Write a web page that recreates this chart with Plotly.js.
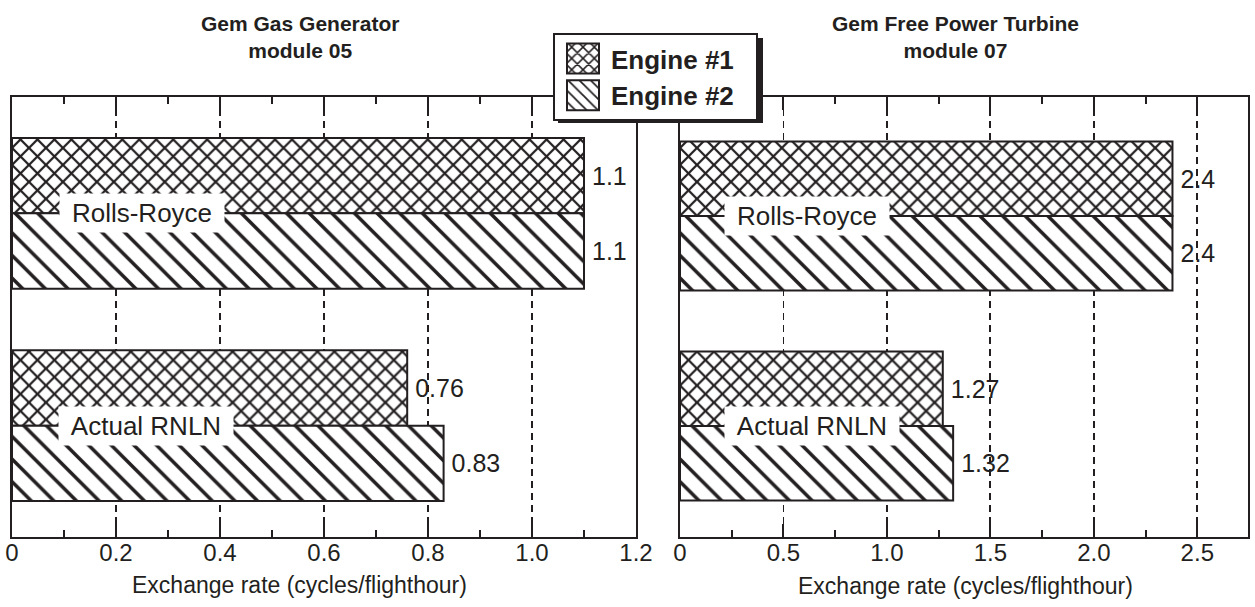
<!DOCTYPE html>
<html>
<head>
<meta charset="utf-8">
<script src="https://cdn.plot.ly/plotly-3.0.1.min.js"></script>
<style>
  html, body { margin: 0; padding: 0; background: #fff; }
  #chart { width: 1255px; height: 607px; }
</style>
</head>
<body>
<div id="chart"></div>
<script>
// ---- data ----
const categories = ['Rolls-Royce', 'Actual RNLN'];
const seriesNames = ['Engine #1', 'Engine #2'];

const ggEngine1 = [1.1, 0.76];
const ggEngine2 = [1.1, 0.83];
const ggLabels1 = ['1.1', '0.76'];
const ggLabels2 = ['1.1', '0.83'];

const fptEngine1 = [2.38, 1.27];
const fptEngine2 = [2.38, 1.32];
const fptLabels1 = ['2.4', '1.27'];
const fptLabels2 = ['2.4', '1.32'];

const ggTickVals = [0, 0.2, 0.4, 0.6, 0.8, 1.0, 1.2];
const ggTickText = ['0', '0.2', '0.4', '0.6', '0.8', '1.0', '1.2'];
const fptTickVals = [0, 0.5, 1.0, 1.5, 2.0, 2.5];
const fptTickText = ['0', '0.5', '1.0', '1.5', '2.0', '2.5'];

const panelTitles = ['<b>Gem Gas Generator<br>module 05</b>', '<b>Gem Free Power Turbine<br>module 07</b>'];
const axisTitle = 'Exchange rate (cycles/flighthour)';

// ---- styling ----
const INK = '#231f20';
const FONT = 'Liberation Sans, Arial, Helvetica, sans-serif';
const W = 1255, H = 607;
const px = v => v / W;
const py = v => 1 - v / H;

const pat1 = {shape: 'x', size: 12, solidity: 0.34, fgcolor: INK, bgcolor: 'white', fillmode: 'replace'};
const pat2 = {shape: '\\', size: 16, solidity: 0.22, fgcolor: INK, bgcolor: 'white', fillmode: 'replace'};

function barTrace(name, x, labels, pat, xa, ya, showleg) {
  return {
    type: 'bar', orientation: 'h', name: name,
    y: [0, 1], x: x, text: labels,
    texttemplate: '\u2009%{text}',
    textposition: 'outside', cliponaxis: false,
    textfont: {family: FONT, size: 25, color: INK},
    marker: {color: 'white', line: {color: INK, width: 2}, pattern: pat},
    xaxis: xa, yaxis: ya, showlegend: showleg, hoverinfo: 'skip'
  };
}

const data = [
  barTrace(seriesNames[0], ggEngine1, ggLabels1, pat1, 'x', 'y', true),
  barTrace(seriesNames[1], ggEngine2, ggLabels2, pat2, 'x', 'y', true),
  barTrace(seriesNames[0], fptEngine1, fptLabels1, pat1, 'x2', 'y2', false),
  barTrace(seriesNames[1], fptEngine2, fptLabels2, pat2, 'x2', 'y2', false)
];

function xAxis(domain, range, tv, tt, minorStep, anchor) {
  return {
    domain: domain, range: range, anchor: anchor,
    tickmode: 'array', tickvals: tv, ticktext: tt,
    ticks: 'inside', ticklen: 13, tickwidth: 2, tickcolor: INK,
    minor: {dtick: minorStep, tick0: 0, ticks: 'inside', ticklen: 7, tickwidth: 2, tickcolor: INK, showgrid: false},
    showgrid: true, gridcolor: INK, gridwidth: 1.8, griddash: '7px,5px',
    showline: true, linecolor: INK, linewidth: 2, mirror: 'ticks',
    zeroline: false,
    ticklabelstandoff: -7,
    tickfont: {family: FONT, size: 24, color: INK},
    fixedrange: true
  };
}
function yAxis(domain, range, anchor) {
  return {
    domain: domain, range: range, anchor: anchor,
    showticklabels: false, ticks: '', showgrid: false, zeroline: false,
    showline: true, linecolor: INK, linewidth: 2, mirror: true,
    fixedrange: true
  };
}

const yDom = [py(537), py(97)];

const catAnn = (text, x, y, xref, yref, w) => ({
  text: text, x: x, y: y, xref: xref, yref: yref, showarrow: false,
  xanchor: 'center', yanchor: 'middle',
  width: w, height: 32, align: 'center',
  bgcolor: 'white', borderpad: 3,
  font: {family: FONT, size: 26, color: INK}
});

const textAnn = (text, xPix, yPix, size) => ({
  text: text, x: px(xPix), y: py(yPix), xref: 'paper', yref: 'paper', showarrow: false,
  xanchor: 'center', yanchor: 'middle', align: 'center',
  font: {family: FONT, size: size, color: INK}
});

const layout = {
  width: W, height: H,
  margin: {l: 0, r: 0, t: 0, b: 0},
  paper_bgcolor: 'white', plot_bgcolor: 'white',
  font: {family: FONT, color: INK},
  barmode: 'group', bargap: 0.29, bargroupgap: 0,
  xaxis: xAxis([px(12), px(636)], [0, 1.2], ggTickVals, ggTickText, 0.1, 'y'),
  yaxis: yAxis(yDom, [1.524, -0.548], 'x'),
  xaxis2: xAxis([px(680), px(1248)], [0, 2.745], fptTickVals, fptTickText, 0.25, 'y2'),
  yaxis2: yAxis(yDom, [1.529, -0.567], 'x2'),
  showlegend: true,
  legend: {
    x: px(553), y: py(33), xanchor: 'left', yanchor: 'top',
    bgcolor: 'white', bordercolor: INK, borderwidth: 2,
    font: {family: FONT, size: 26, color: INK, weight: 'bold'},
    itemwidth: 46, traceorder: 'normal'
  },
  shapes: [
    {type: 'rect', xref: 'paper', yref: 'paper', x0: px(558), x1: px(763), y0: py(123), y1: py(38),
     fillcolor: INK, line: {width: 0}, layer: 'above'}
  ],
  annotations: [
    textAnn(panelTitles[0], 300, 37, 21),
    textAnn(panelTitles[1], 955, 37, 21),
    textAnn(axisTitle, 299, 585, 23),
    textAnn(axisTitle, 965, 586, 23),
    catAnn(categories[0], 0.25, 0, 'x', 'y', 158),
    catAnn(categories[1], 0.258, 1, 'x', 'y', 168),
    catAnn(categories[0], 0.616, 0, 'x2', 'y2', 158),
    catAnn(categories[1], 0.638, 1, 'x2', 'y2', 168)
  ]
};

Plotly.newPlot('chart', data, layout, {staticPlot: true, displayModeBar: false}).then(gd => {
  gd.querySelectorAll('.legend .legendpoints path').forEach(p => {
    p.setAttribute('d', 'M16,15H-16V-15H16Z');
  });
  const bg = gd.querySelector('.legend rect.bg');
  if (bg) { bg.setAttribute('width', 203); }
});
</script>
</body>
</html>
